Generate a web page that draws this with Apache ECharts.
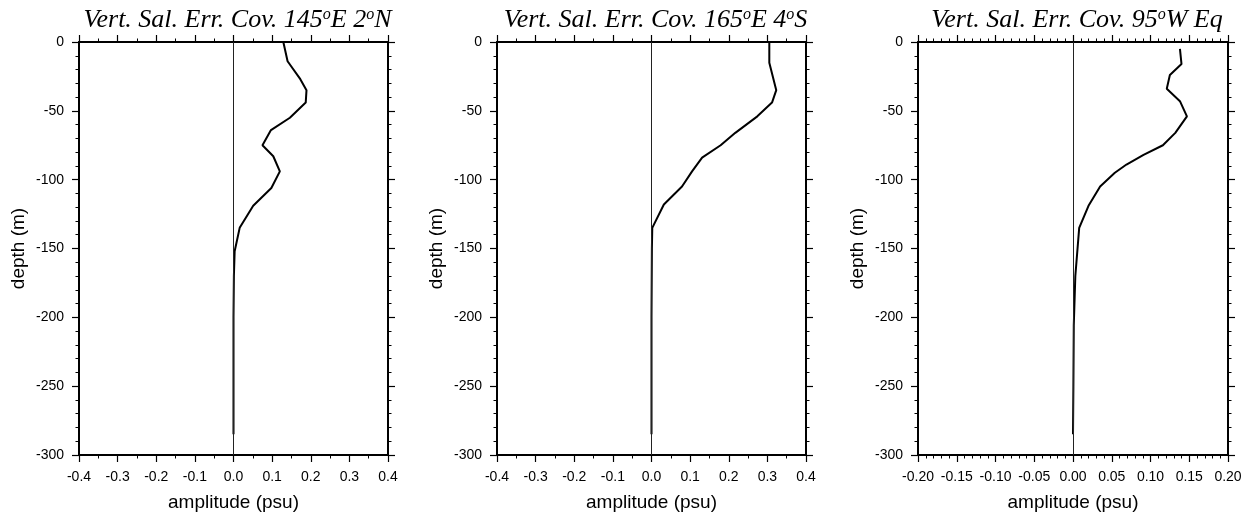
<!DOCTYPE html>
<html>
<head>
<meta charset="utf-8">
<script src="https://cdn.jsdelivr.net/npm/echarts@6/dist/echarts.min.js"></script>
<style>
html,body{margin:0;padding:0;background:#fff;}
#chart{width:1248px;height:512px;}
</style>
</head>
<body>
<div id="chart"></div>
<script>
// ---- data (depth in m, amplitude in psu) ----
const depth145 = [0, -14, -27, -35, -44, -55, -64, -75, -83, -94, -106, -119, -135, -152, -170, -200, -250, -285];
const sal145   = [0.129, 0.14, 0.173, 0.189, 0.187, 0.146, 0.097, 0.075, 0.103, 0.12, 0.098, 0.051, 0.016, 0.003, 0.001, 0.0, 0.0, 0.0];

const depth165 = [0, -15, -35, -44, -54, -66, -75, -84, -94, -105, -118, -135, -150, -200, -250, -285];
const sal165   = [0.305, 0.305, 0.323, 0.312, 0.274, 0.217, 0.179, 0.131, 0.105, 0.079, 0.032, 0.002, 0.001, 0.0, 0.0, 0.0];

const depth95  = [-5, -16, -24, -34, -43, -54, -66, -75, -82, -89, -95, -105, -119, -135, -170, -206, -250, -285];
const sal95    = [0.138, 0.14, 0.125, 0.121, 0.138, 0.147, 0.132, 0.116, 0.091, 0.069, 0.054, 0.035, 0.02, 0.008, 0.003, 0.001, 0.0005, 0.0];

const titles = [
  ['Vert. Sal. Err. Cov. 145', 'E 2', 'N'],
  ['Vert. Sal. Err. Cov. 165', 'E 4', 'S'],
  ['Vert. Sal. Err. Cov. 95', 'W Eq', '']
];
const xRanges = [[-0.4, 0.4, 0.1, 2, 1], [-0.4, 0.4, 0.1, 2, 1], [-0.2, 0.2, 0.05, 5, 2]];
const yRange = [-300, 0, 50, 5];
const xName = 'amplitude (psu)';
const yName = 'depth (m)';

// ---- layout ----
const grids = [
  {left: 79, top: 42, width: 309, height: 413},
  {left: 497, top: 42, width: 309, height: 413},
  {left: 918, top: 42, width: 310, height: 413}
];
const seriesData = [
  [sal145, depth145],
  [sal165, depth165],
  [sal95, depth95]
];

const sans = 'Liberation Sans, Arial, sans-serif';
const serif = 'Liberation Serif, Times New Roman, serif';

const option = {
  backgroundColor: '#fff',
  animation: false,
  title: [], grid: [], xAxis: [], yAxis: [], series: []
};

grids.forEach((g, i) => {
  option.grid.push(Object.assign({containLabel: false, outerBoundsMode: 'none'}, g));
  const [xmin, xmax, xint, xsplit, dec] = xRanges[i];
  const axisLine = {show: true, onZero: false, lineStyle: {color: '#000', width: 2}};
  const tick = {show: true, inside: false, length: 7, lineStyle: {color: '#000', width: 1.2}};
  const minor = (n) => ({show: true, splitNumber: n, length: 3.5, lineStyle: {color: '#000', width: 1}});
  // bottom x
  option.xAxis.push({
    gridIndex: i, type: 'value', position: 'bottom', min: xmin, max: xmax, interval: xint,
    axisLine, axisTick: tick, minorTick: minor(xsplit), splitLine: {show: false},
    axisLabel: {show: true, margin: 15, color: '#000', fontFamily: sans, fontSize: 14,
      formatter: v => v.toFixed(dec)},
    name: xName, nameLocation: 'middle', nameGap: 38,
    nameTextStyle: {color: '#000', fontFamily: sans, fontSize: 19}
  });
  // top x (frame)
  option.xAxis.push({
    gridIndex: i, type: 'value', position: 'top', min: xmin, max: xmax, interval: xint,
    axisLine, axisTick: tick, minorTick: minor(xsplit), splitLine: {show: false},
    axisLabel: {show: false}
  });
  // left y
  option.yAxis.push({
    gridIndex: i, type: 'value', position: 'left', min: yRange[0], max: yRange[1], interval: yRange[2],
    axisLine, axisTick: tick, minorTick: minor(yRange[3]), splitLine: {show: false},
    axisLabel: {show: true, margin: 15, color: '#000', fontFamily: sans, fontSize: 14},
    name: yName, nameLocation: 'middle', nameGap: 51,
    nameTextStyle: {color: '#000', fontFamily: sans, fontSize: 19}
  });
  // right y (frame)
  option.yAxis.push({
    gridIndex: i, type: 'value', position: 'right', min: yRange[0], max: yRange[1], interval: yRange[2],
    axisLine, axisTick: tick, minorTick: minor(yRange[3]), splitLine: {show: false},
    axisLabel: {show: false}
  });
  const t = titles[i];
  let txt = '{a|' + t[0] + '}{s|o}{a|' + t[1] + '}';
  if (t[2]) txt += '{s|o}{a|' + t[2] + '}';
  option.title.push({
    text: txt, left: g.left + g.width / 2 - 1, textAlign: 'center', top: 0,
    textStyle: {
      fontWeight: 'normal',
      rich: {
        a: {fontFamily: serif, fontStyle: 'italic', fontWeight: 'normal', fontSize: 26, color: '#000', lineHeight: 30},
        s: {fontFamily: serif, fontStyle: 'italic', fontWeight: 'normal', fontSize: 16, color: '#000', verticalAlign: 'top', lineHeight: 30, padding: [2, 0, 4, 0]}
      }
    }
  });
  const [xs, ys] = seriesData[i];
  option.series.push({
    type: 'line', xAxisIndex: 2 * i, yAxisIndex: 2 * i,
    data: xs.map((v, k) => [v, ys[k]]),
    showSymbol: false, symbol: 'none', smooth: false,
    lineStyle: {color: '#000', width: 2},
    markLine: {
      silent: true, symbol: 'none', label: {show: false},
      lineStyle: {color: '#222', width: 1, type: 'solid'},
      data: [{xAxis: 0}]
    },
    z: 3
  });
});

const chart = echarts.init(document.getElementById('chart'), null, {renderer: 'canvas'});
chart.setOption(option);
</script>
</body>
</html>
